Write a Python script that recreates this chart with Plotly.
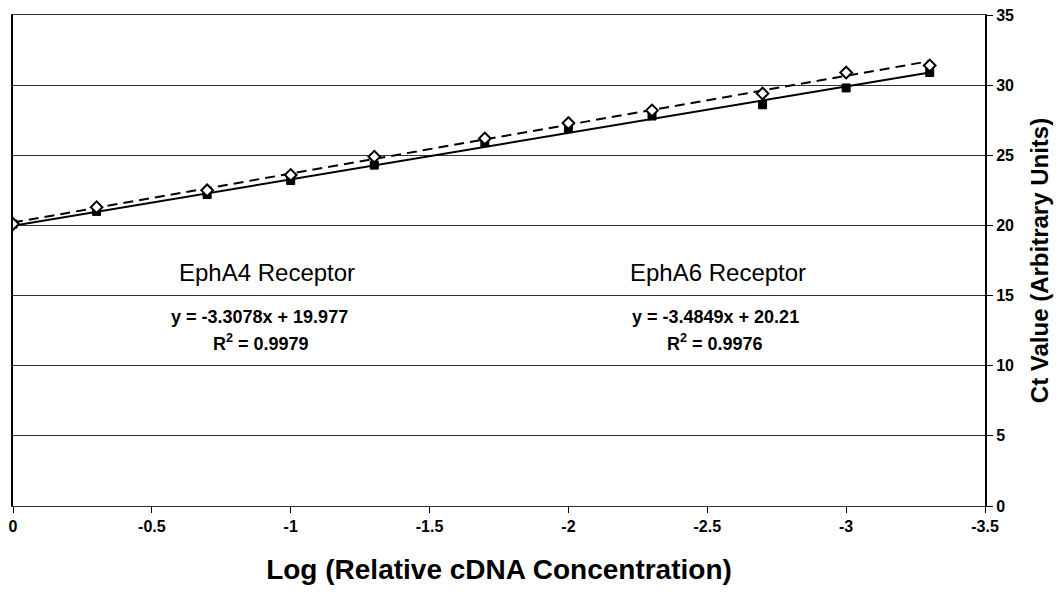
import plotly.graph_objects as go
import numpy as np

# Data
log_conc = [0, -0.301, -0.699, -1.0, -1.301, -1.699, -2.0, -2.301, -2.699, -3.0, -3.301]
epha4_ct = [20.1, 21.0, 22.2, 23.2, 24.3, 25.9, 26.9, 27.8, 28.6, 29.8, 30.9]
epha6_ct = [20.1, 21.3, 22.5, 23.6, 24.9, 26.2, 27.3, 28.2, 29.4, 30.9, 31.4]

# Trendline coefficients as printed on the chart
epha4_fit = {"slope": -3.3078, "intercept": 19.977, "r2": 0.9979}
epha6_fit = {"slope": -3.4849, "intercept": 20.21, "r2": 0.9976}

x_ticks = [0, -0.5, -1, -1.5, -2, -2.5, -3, -3.5]
y_ticks = [0, 5, 10, 15, 20, 25, 30, 35]

FONT = "Arial, Liberation Sans, sans-serif"

xs = np.array([log_conc[0], log_conc[-1]])
fit4 = epha4_fit["slope"] * xs + epha4_fit["intercept"]
fit6 = epha6_fit["slope"] * xs + epha6_fit["intercept"]

fig = go.Figure()
fig.add_trace(go.Scatter(x=xs, y=fit4, mode="lines",
                         line=dict(color="black", width=2), showlegend=False))
fig.add_trace(go.Scatter(x=xs, y=fit6, mode="lines",
                         line=dict(color="black", width=2, dash="10px,6px"),
                         showlegend=False))
fig.add_trace(go.Scatter(x=log_conc, y=epha4_ct, mode="markers",
                         marker=dict(symbol="square", size=8, color="black",
                                     line=dict(color="black", width=1)),
                         showlegend=False))
fig.add_trace(go.Scatter(x=log_conc, y=epha6_ct, mode="markers",
                         marker=dict(symbol="diamond", size=9, color="white",
                                     line=dict(color="black", width=2)),
                         showlegend=False))

def eq_text(fit, fmt):
    return ("y = %.4fx + " + fmt) % (fit["slope"], fit["intercept"])

# the page body adds an 8px offset; margins compensate so the plot area
# lands at the reference position
fig.update_layout(
    width=1063, height=592,
    margin=dict(l=5, r=86, t=7, b=94),
    paper_bgcolor="white", plot_bgcolor="white",
    font=dict(family=FONT, color="black"),
    xaxis=dict(
        range=[0, -3.5], tickvals=x_ticks,
        ticktext=[("%g" % v) for v in x_ticks],
        showgrid=False, zeroline=False, automargin=False,
        ticklabeloverflow="allow",
        showline=True, linecolor="#333", linewidth=1, mirror=True,
        ticks="outside", ticklen=6, tickcolor="black",
        tickfont=dict(size=16, family=FONT, weight="bold"),
        title=dict(text="Log (Relative cDNA Concentration)",
                   font=dict(size=28, family=FONT, weight="bold"), standoff=25),
    ),
    yaxis=dict(
        range=[0, 35], tickvals=y_ticks, side="right",
        showgrid=True, gridcolor="#333", gridwidth=1, zeroline=False, automargin=False,
        ticklabeloverflow="allow",
        showline=True, linecolor="black", linewidth=2, mirror=True,
        ticks="outside", ticklen=6, tickcolor="black",
        tickfont=dict(size=16, family=FONT, weight="bold"),
        title=dict(text="Ct Value (Arbitrary Units)",
                   font=dict(size=24, family=FONT, weight="bold"), standoff=18),
    ),
    annotations=[
        dict(x=-0.915, y=16.68, xref="x", yref="y", showarrow=False,
             text="EphA4 Receptor", font=dict(size=24, family=FONT)),
        dict(x=-0.886, y=13.47, xref="x", yref="y", showarrow=False,
             text=eq_text(epha4_fit, "%.3f"),
             font=dict(size=18, family=FONT, weight="bold")),
        dict(x=-0.893, y=11.62, xref="x", yref="y", showarrow=False,
             text="R<sup>2</sup> = %.4f" % epha4_fit["r2"],
             font=dict(size=18, family=FONT, weight="bold")),
        dict(x=-2.539, y=16.68, xref="x", yref="y", showarrow=False,
             text="EphA6 Receptor", font=dict(size=24, family=FONT)),
        dict(x=-2.528, y=13.47, xref="x", yref="y", showarrow=False,
             text=eq_text(epha6_fit, "%.2f"),
             font=dict(size=18, family=FONT, weight="bold")),
        dict(x=-2.528, y=11.62, xref="x", yref="y", showarrow=False,
             text="R<sup>2</sup> = %.4f" % epha6_fit["r2"],
             font=dict(size=18, family=FONT, weight="bold")),
    ],
)

fig.write_html("out.html")
